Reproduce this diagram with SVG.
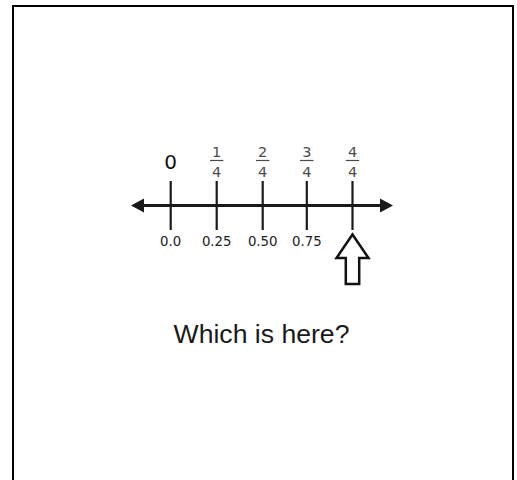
<svg xmlns="http://www.w3.org/2000/svg" width="517" height="480" viewBox="0 0 517 480">
<style>
.frame{fill:none;stroke:#000;stroke-width:2}
.axis{stroke:#1a1a1a;stroke-width:3.2}
.tick{stroke:#1a1a1a;stroke-width:2.2}
.head{fill:#1a1a1a}
.big{font-family:"DejaVu Sans",Verdana,sans-serif;font-size:20px;fill:#111;text-anchor:middle}
.frac{font-family:"DejaVu Sans",Verdana,sans-serif;font-size:14.5px;fill:#4a4a4a;text-anchor:middle}
.bar{stroke:#4a4a4a;stroke-width:1.2}
.dec{font-family:"DejaVu Sans",Verdana,sans-serif;font-size:13.3px;fill:#222;text-anchor:middle}
.q{font-family:"Liberation Sans",Arial,sans-serif;font-size:26.6px;fill:#1a1a1a;text-anchor:middle}
</style>
<rect width="517" height="480" fill="#fff"/>
<path class="frame" d="M13,480 V6 H513 V480"/>
<g id="connectors">
<line class="axis" x1="140" y1="205.5" x2="384" y2="205.5"/>
<polygon class="head" points="131,205.5 144,198.5 144,212.5"/>
<polygon class="head" points="393,205.5 380,198.5 380,212.5"/>
</g>
<g id="tick-0">
<line class="tick" x1="170.7" y1="181" x2="170.7" y2="230"/>
<text class="big" x="170.7" y="168.5">0</text>
<text class="dec" x="170.7" y="245.5">0.0</text>
</g>
<g id="tick-1">
<line class="tick" x1="216.7" y1="181" x2="216.7" y2="230"/>
<text class="frac" x="216.7" y="156.5">1</text>
<line class="bar" x1="210" y1="160.5" x2="223.4" y2="160.5"/>
<text class="frac" x="216.7" y="176.5">4</text>
<text class="dec" x="216.7" y="245.5">0.25</text>
</g>
<g id="tick-2">
<line class="tick" x1="262.7" y1="181" x2="262.7" y2="230"/>
<text class="frac" x="262.7" y="156.5">2</text>
<line class="bar" x1="256" y1="160.5" x2="269.4" y2="160.5"/>
<text class="frac" x="262.7" y="176.5">4</text>
<text class="dec" x="262.7" y="245.5">0.50</text>
</g>
<g id="tick-3">
<line class="tick" x1="306.8" y1="181" x2="306.8" y2="230"/>
<text class="frac" x="306.8" y="156.5">3</text>
<line class="bar" x1="300.1" y1="160.5" x2="313.5" y2="160.5"/>
<text class="frac" x="306.8" y="176.5">4</text>
<text class="dec" x="306.8" y="245.5">0.75</text>
</g>
<g id="tick-4">
<line class="tick" x1="352.5" y1="181" x2="352.5" y2="230"/>
<text class="frac" x="352.5" y="156.5">4</text>
<line class="bar" x1="345.8" y1="160.5" x2="359.2" y2="160.5"/>
<text class="frac" x="352.5" y="176.5">4</text>
</g>
<g id="pointer">
<polygon points="352.5,234.5 336.5,258 345.8,258 345.8,284 359.2,284 359.2,258 368.5,258" fill="#fff" stroke="#111" stroke-width="2.5" stroke-linejoin="miter"/>
</g>
<g id="question">
<text class="q" x="261.5" y="343">Which is here?</text>
</g>
</svg>
